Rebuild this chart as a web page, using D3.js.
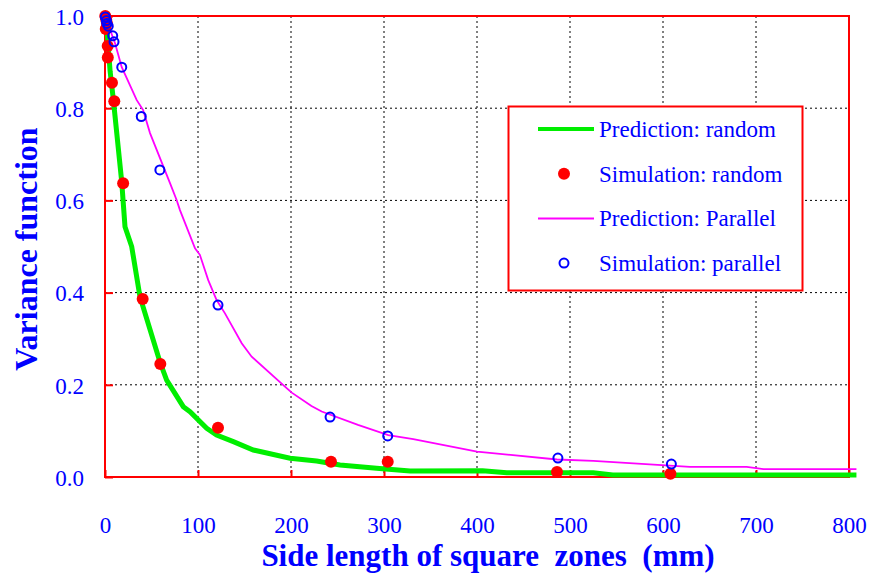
<!DOCTYPE html>
<html>
<head>
<meta charset="utf-8">
<script src="https://cdn.jsdelivr.net/npm/d3@7"></script>
<style>
  html, body { margin: 0; padding: 0; background: #fff; }
  svg { display: block; }
  text { font-family: "Liberation Serif", "Times New Roman", serif; }
</style>
</head>
<body>
<svg id="chart" width="870" height="576"></svg>
<script>
// Tick values
const xTicks = [0, 100, 200, 300, 400, 500, 600, 700, 800];
const yTicks = [0, 0.2, 0.4, 0.6, 0.8, 1.0];

// Prediction curve, random arrangement: [side length (mm), variance function]
const predRandom = [
  [0, 1.0], [2.5, 0.96], [5.5, 0.88], [9, 0.818], [18, 0.64], [21.5, 0.543],
  [28.7, 0.50], [37.6, 0.391], [59, 0.25], [66.3, 0.21], [84.2, 0.1525],
  [91.4, 0.1416], [109.4, 0.1056], [120, 0.091], [138, 0.0766], [159.5, 0.0586],
  [199, 0.0406], [227.6, 0.0347], [252.7, 0.026], [292, 0.019], [328, 0.013],
  [406, 0.0137], [432, 0.0093], [525, 0.0093], [546, 0.0043], [808, 0.0043]
];

// Simulation results, random arrangement
const simRandom = [
  [0.3, 1.0], [1.2, 0.993], [2.0, 0.985], [0.8, 0.972], [2.9, 0.935], [3.0, 0.91],
  [7.5, 0.855], [10, 0.815], [19.5, 0.637], [40.5, 0.386], [59.5, 0.245],
  [121.5, 0.107], [243, 0.033], [304, 0.033], [486, 0.011], [608, 0.007]
];

// Prediction curve, parallel arrangement
const predParallel = [
  [0, 1.0], [10.8, 0.941], [18, 0.889], [34, 0.818], [41, 0.796], [48.4, 0.746],
  [70, 0.637], [77, 0.601], [80.6, 0.579], [96.8, 0.496], [102, 0.482],
  [111, 0.427], [120, 0.384], [129, 0.355], [147, 0.29], [157.7, 0.261],
  [193.5, 0.196], [200.8, 0.183], [222, 0.154], [233, 0.142], [272, 0.113],
  [304.6, 0.091], [331.5, 0.082], [400, 0.055], [486, 0.038], [525, 0.035],
  [629, 0.022], [690, 0.022], [708, 0.017], [808, 0.017]
];

// Simulation results, parallel arrangement
const simParallel = [
  [0.3, 0.998], [1.5, 0.99], [2.0, 0.984], [3.5, 0.978], [8.3, 0.957], [9.7, 0.944],
  [18, 0.889], [39, 0.782], [59, 0.666], [121.5, 0.373], [242, 0.130],
  [304, 0.089], [487, 0.041], [609, 0.028]
];

// Legend entries
const legendLabels = ["Prediction: random", "Simulation: random", "Prediction: Parallel", "Simulation: parallel"];

const RED = "#ff0000", BLUE = "#0000ff", GREEN = "#00ee00", PINK = "#ff00ff";
const SERIF = "'Liberation Serif', 'Times New Roman', serif";

const svg = d3.select("#chart");
const x = d3.scaleLinear().domain([0, 800]).range([105, 849]);
const y = d3.scaleLinear().domain([0, 1]).range([477, 16]);

// Dotted grid
const grid = svg.append("g");
grid.selectAll("line.gx").data(xTicks.slice(1, -1)).join("line")
  .attr("x1", d => x(d)).attr("x2", d => x(d))
  .attr("y1", y(1)).attr("y2", y(0))
  .attr("stroke", "#000").attr("stroke-width", 1).attr("stroke-dasharray", "2,3");
grid.selectAll("line.gy").data(yTicks.slice(1, -1)).join("line")
  .attr("x1", x(0)).attr("x2", x(800))
  .attr("y1", d => y(d)).attr("y2", d => y(d))
  .attr("stroke", "#000").attr("stroke-width", 1).attr("stroke-dasharray", "2,3");

// Frame
svg.append("rect")
  .attr("x", x(0)).attr("y", y(1))
  .attr("width", x(800) - x(0)).attr("height", y(0) - y(1))
  .attr("fill", "none").attr("stroke", RED).attr("stroke-width", 2);

// Axes: inward red ticks, blue labels
const xAxis = svg.append("g").attr("transform", `translate(0,${y(0)})`)
  .call(d3.axisBottom(x).tickValues(xTicks).tickSizeInner(-7).tickSizeOuter(0).tickPadding(40).tickFormat(d3.format("d")));
const yAxis = svg.append("g").attr("transform", `translate(${x(0)},0)`)
  .call(d3.axisLeft(y).tickValues(yTicks).tickSizeInner(-8).tickSizeOuter(0).tickPadding(21).tickFormat(d3.format(".1f")));
[xAxis, yAxis].forEach(a => {
  a.attr("font-family", SERIF).attr("font-size", 23);
  a.select(".domain").remove();
  a.selectAll(".tick line").attr("stroke", RED).attr("stroke-width", 2);
  a.selectAll(".tick text").attr("fill", BLUE)
    .style("font-family", SERIF).style("font-size", "23px");
});
yAxis.selectAll(".tick text").attr("dy", "0.36em");

// Axis titles
svg.append("text")
  .attr("x", 488).attr("y", 566)
  .attr("text-anchor", "middle").attr("fill", BLUE)
  .style("font-size", "31px").style("font-weight", "bold").style("white-space", "pre")
  .text("Side length of square  zones  (mm)");
svg.append("text")
  .attr("transform", "translate(37,249) rotate(-90)")
  .attr("text-anchor", "middle").attr("fill", BLUE)
  .style("font-size", "32px").style("font-weight", "bold")
  .text("Variance function");

// Curves
const line = d3.line().x(d => x(d[0])).y(d => y(d[1]));
svg.append("path").datum(predParallel).attr("d", line)
  .attr("fill", "none").attr("stroke", PINK).attr("stroke-width", 1.8);
svg.append("path").datum(predRandom).attr("d", line)
  .attr("fill", "none").attr("stroke", GREEN).attr("stroke-width", 5);

// Simulation points
svg.append("g").selectAll("circle").data(simRandom).join("circle")
  .attr("cx", d => x(d[0])).attr("cy", d => y(d[1])).attr("r", 6)
  .attr("fill", RED);
svg.append("g").selectAll("circle").data(simParallel).join("circle")
  .attr("cx", d => x(d[0])).attr("cy", d => y(d[1])).attr("r", 4.5)
  .attr("fill", "none").attr("stroke", BLUE).attr("stroke-width", 2);

// Legend
const lg = svg.append("g");
lg.append("rect").attr("x", 508.5).attr("y", 106.5).attr("width", 294).attr("height", 184)
  .attr("fill", "#fff").attr("stroke", RED).attr("stroke-width", 2);
const rowY = i => 129 + i * 44.7;
lg.append("line").attr("x1", 538).attr("x2", 594).attr("y1", rowY(0)).attr("y2", rowY(0))
  .attr("stroke", GREEN).attr("stroke-width", 4);
lg.append("circle").attr("cx", 564).attr("cy", rowY(1)).attr("r", 6).attr("fill", RED);
lg.append("line").attr("x1", 538).attr("x2", 594).attr("y1", rowY(2)).attr("y2", rowY(2))
  .attr("stroke", PINK).attr("stroke-width", 2);
lg.append("circle").attr("cx", 564).attr("cy", rowY(3)).attr("r", 4.5)
  .attr("fill", "none").attr("stroke", BLUE).attr("stroke-width", 2);
lg.selectAll("text").data(legendLabels).join("text")
  .attr("x", 599).attr("y", (d, i) => rowY(i) + 8)
  .attr("fill", BLUE).style("font-size", "23px")
  .text(d => d);
</script>
</body>
</html>
